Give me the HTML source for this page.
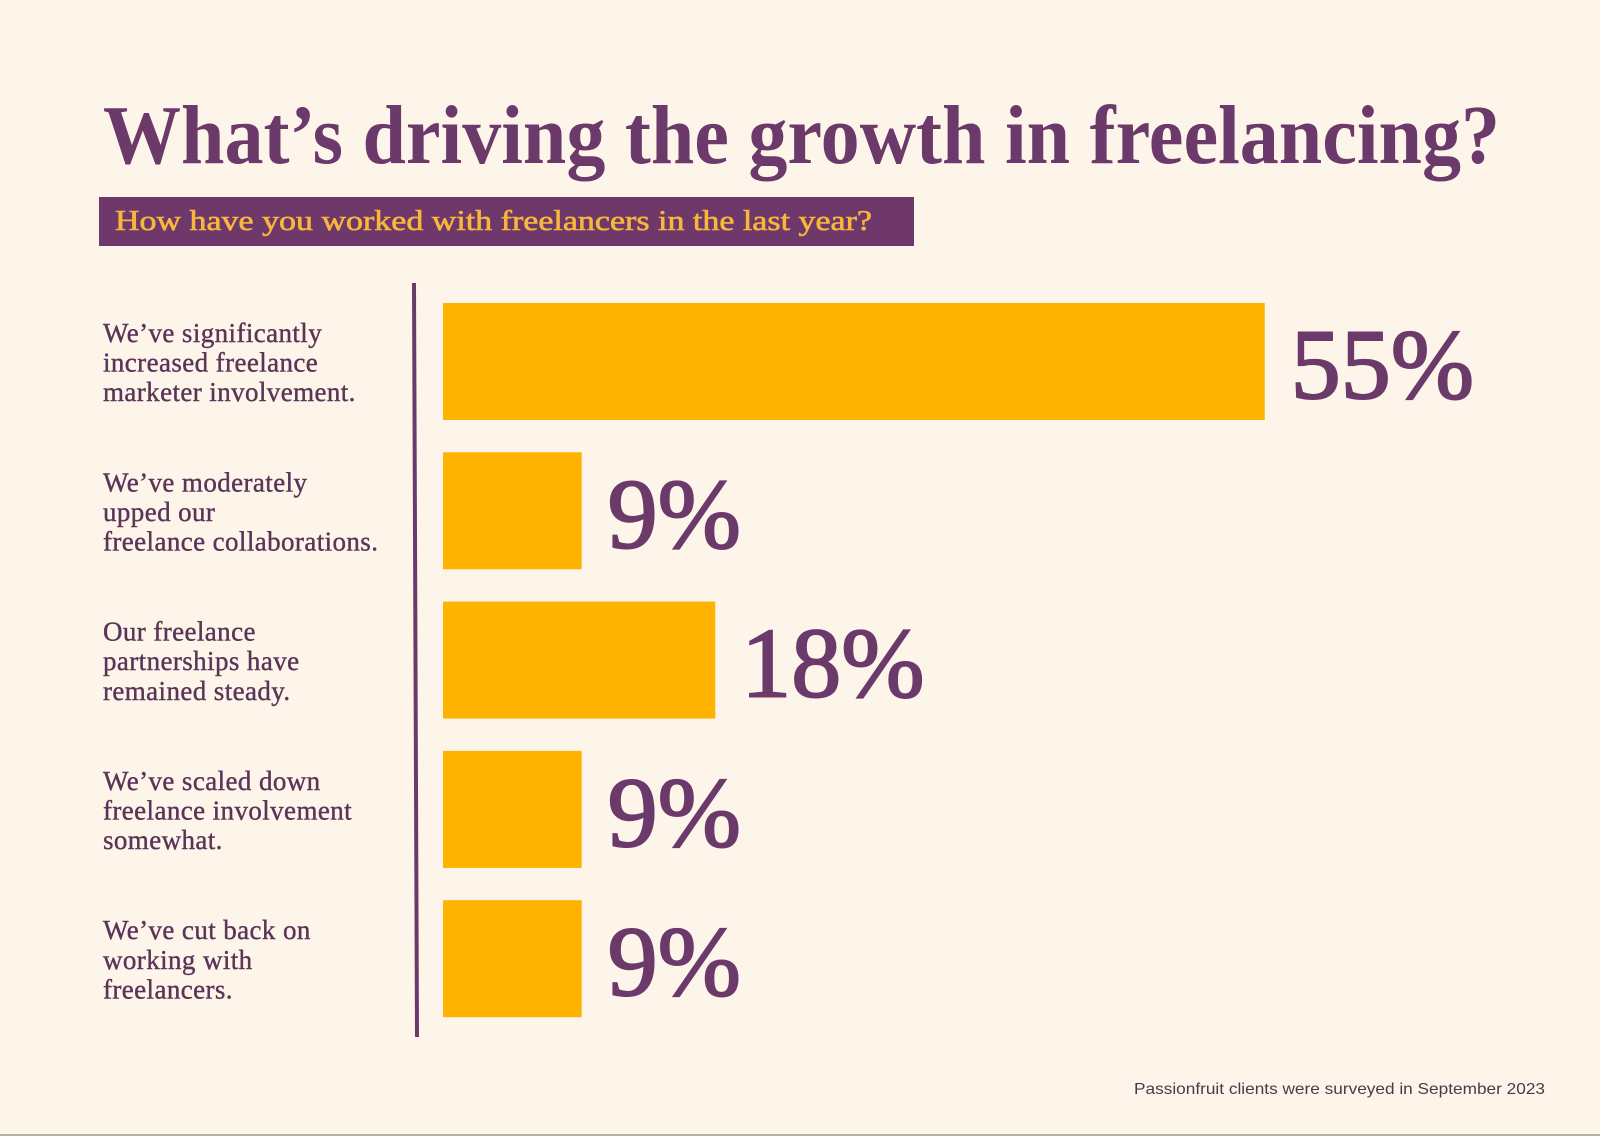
<!DOCTYPE html>
<html><head><meta charset="utf-8"><style>
html,body{margin:0;padding:0;background:#fef5ea;}
svg{display:block;}
</style></head><body>
<svg id="chart" width="1600" height="1136" viewBox="0 0 1600 1136" xmlns="http://www.w3.org/2000/svg">
<rect x="0" y="0" width="1600" height="1136" fill="#fef5ea"/>
<line x1="0" y1="1135" x2="1600" y2="1135" stroke="#b5b2a4" stroke-width="2"/>
<text x="103" y="163" font-family="Liberation Serif, serif" font-size="84" font-weight="bold" fill="#6b3a6b" textLength="1397" lengthAdjust="spacingAndGlyphs">What’s driving the growth in freelancing?</text>
<rect x="99" y="197" width="815" height="49" fill="#6e386b"/>
<text x="115" y="230" font-family="Liberation Serif, serif" font-size="28" fill="#f7b73a" stroke="#f7b73a" stroke-width="0.6" textLength="757" lengthAdjust="spacingAndGlyphs">How have you worked with freelancers in the last year?</text>
<path d="M412 283 L416 283 L419 1037 L415 1037 Z" fill="#6b3a6b"/>
<g id="bars"></g>
<text x="1545" y="1094" text-anchor="end" font-family="Liberation Sans, sans-serif" font-size="16" fill="#4a3a48" textLength="411" lengthAdjust="spacingAndGlyphs">Passionfruit clients were surveyed in September 2023</text>
</svg>
<script>
const categories = [
  ["We’ve significantly","increased freelance","marketer involvement."],
  ["We’ve moderately","upped our","freelance collaborations."],
  ["Our freelance","partnerships have","remained steady."],
  ["We’ve scaled down","freelance involvement","somewhat."],
  ["We’ve cut back on","working with","freelancers."]
];
const values = [55, 9, 18, 9, 9];
const valueLabels = ["55%","9%","18%","9%","9%"];

const NS = "http://www.w3.org/2000/svg";
const g = document.getElementById("bars");
const x0 = 443, pxPer = 14.85, xOff = 5, rowTop = 303, rowStep = 149.3, barH = 117;
function xScale(v){ return x0 + xOff + v * pxPer; }
function yScale(i){ return rowTop + i * rowStep; }
values.forEach((v, i) => {
  const y = yScale(i);
  const r = document.createElementNS(NS, "rect");
  r.setAttribute("x", x0);
  r.setAttribute("y", y);
  r.setAttribute("width", xScale(v) - x0);
  r.setAttribute("height", barH);
  r.setAttribute("fill", "#fdb300");
  
  
  g.appendChild(r);
  const t = document.createElementNS(NS, "text");
  t.setAttribute("x", xScale(v) + 26);
  t.setAttribute("y", y + 95);
  t.setAttribute("font-family", "Liberation Serif, serif");
  t.setAttribute("font-size", "100");
  t.setAttribute("fill", "#6b3a6b");
  t.setAttribute("stroke", "#6b3a6b");
  t.setAttribute("stroke-width", "2");
  t.textContent = valueLabels[i];
  
  
  g.appendChild(t);
  categories[i].forEach((line, j) => {
    const c = document.createElementNS(NS, "text");
    c.setAttribute("x", 103);
    c.setAttribute("y", y + 39 + j * 29.6);
    c.setAttribute("font-family", "Liberation Serif, serif");
    c.setAttribute("font-size", "27");
    c.setAttribute("fill", "#5a3558");
    c.setAttribute("stroke", "#5a3558");
    c.setAttribute("stroke-width", "0.4");
    c.setAttribute("letter-spacing", "0.4");
    c.textContent = line;
    
    
    g.appendChild(c);
  });
});
</script>
</body></html>
